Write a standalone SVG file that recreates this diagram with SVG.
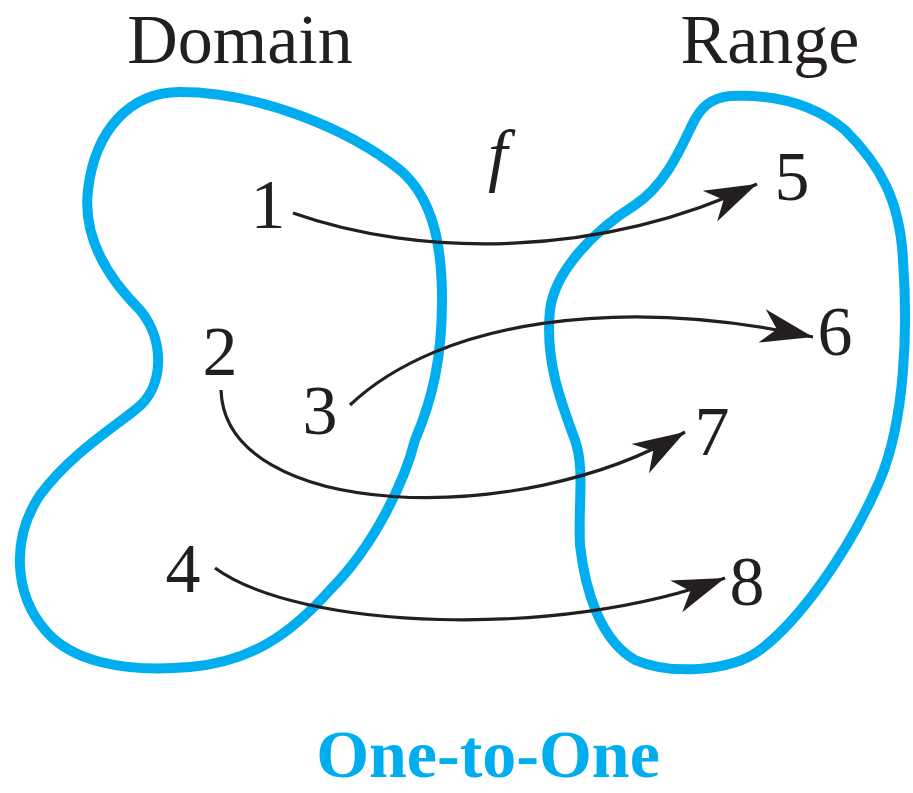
<svg xmlns="http://www.w3.org/2000/svg" width="913" height="793" viewBox="0 0 913 793">
<style>
.blob{fill:none;stroke:#00AEEF;stroke-width:10;stroke-linejoin:round}
.lbl{font-family:"Liberation Serif","Times New Roman",serif;font-size:70px;fill:#231F20}
.num{font-family:"Liberation Serif","Times New Roman",serif;font-size:70px;fill:#231F20;text-anchor:middle}
.conn{fill:none;stroke:#231F20;stroke-width:3.2}
.title{font-family:"Liberation Serif","Times New Roman",serif;font-weight:bold;font-size:68px;fill:#00AEEF;text-anchor:middle}
</style>
<defs>
<marker id="ah" markerUnits="userSpaceOnUse" markerWidth="70" markerHeight="50" viewBox="-60 -25 70 50" refX="0" refY="0" orient="auto">
<path d="M0,0 L-52,-17 L-37,0 L-52,17 Z" fill="#231F20"/>
</marker>
</defs>
<g id="domain">
<path class="blob" d="M180,92 C260,92 350,130 400,170 C435,200 442,250 442,300 C442,360 432,400 415,440 C405,480 375,545 330,590 C290,635 250,662 190,667 C120,673 70,660 45,630 C15,595 10,540 40,495 C70,455 110,430 135,410 C165,388 165,340 140,310 C110,280 82,240 88,190 C95,130 130,92 180,92 Z"/>
<text class="lbl" x="240" y="63" text-anchor="middle">Domain</text>
</g>
<g id="range">
<path class="blob" d="M730,96 C775,94 815,105 845,130 C880,165 900,200 903,260 C908,330 905,420 880,480 C850,550 800,620 760,650 C730,672 670,675 635,660 C600,640 585,590 580,545 C578,500 585,470 575,440 C560,400 545,360 550,310 C555,270 595,230 635,205 C665,185 680,150 692,125 C700,108 710,98 730,96 Z"/>
<text class="lbl" x="770" y="63" text-anchor="middle">Range</text>
</g>
<g id="n1"><text class="num" x="268" y="228">1</text></g>
<g id="n2"><text class="num" x="220" y="375">2</text></g>
<g id="n3"><text class="num" x="320" y="434">3</text></g>
<g id="n4"><text class="num" x="183" y="592">4</text></g>
<g id="n5"><text class="num" x="792" y="200">5</text></g>
<g id="n6"><text class="num" x="835" y="355">6</text></g>
<g id="n7"><text class="num" x="712" y="455">7</text></g>
<g id="n8"><text class="num" x="747" y="605">8</text></g>
<g id="flabel"><text class="lbl" x="488" y="178" font-style="italic" font-size="66">f</text></g>
<g id="connectors">
<path class="conn" marker-end="url(#ah)" d="M293,213 C420,258 600,258 757,184"/>
<path class="conn" marker-end="url(#ah)" d="M350,405 C440,320 620,295 813,337"/>
<path class="conn" marker-end="url(#ah)" d="M221,390 C225,520 520,530 685,432"/>
<path class="conn" marker-end="url(#ah)" d="M215,568 C300,630 560,640 725,578"/>
</g>
<g id="caption"><text class="title" x="488" y="777">One-to-One</text></g>
</svg>
